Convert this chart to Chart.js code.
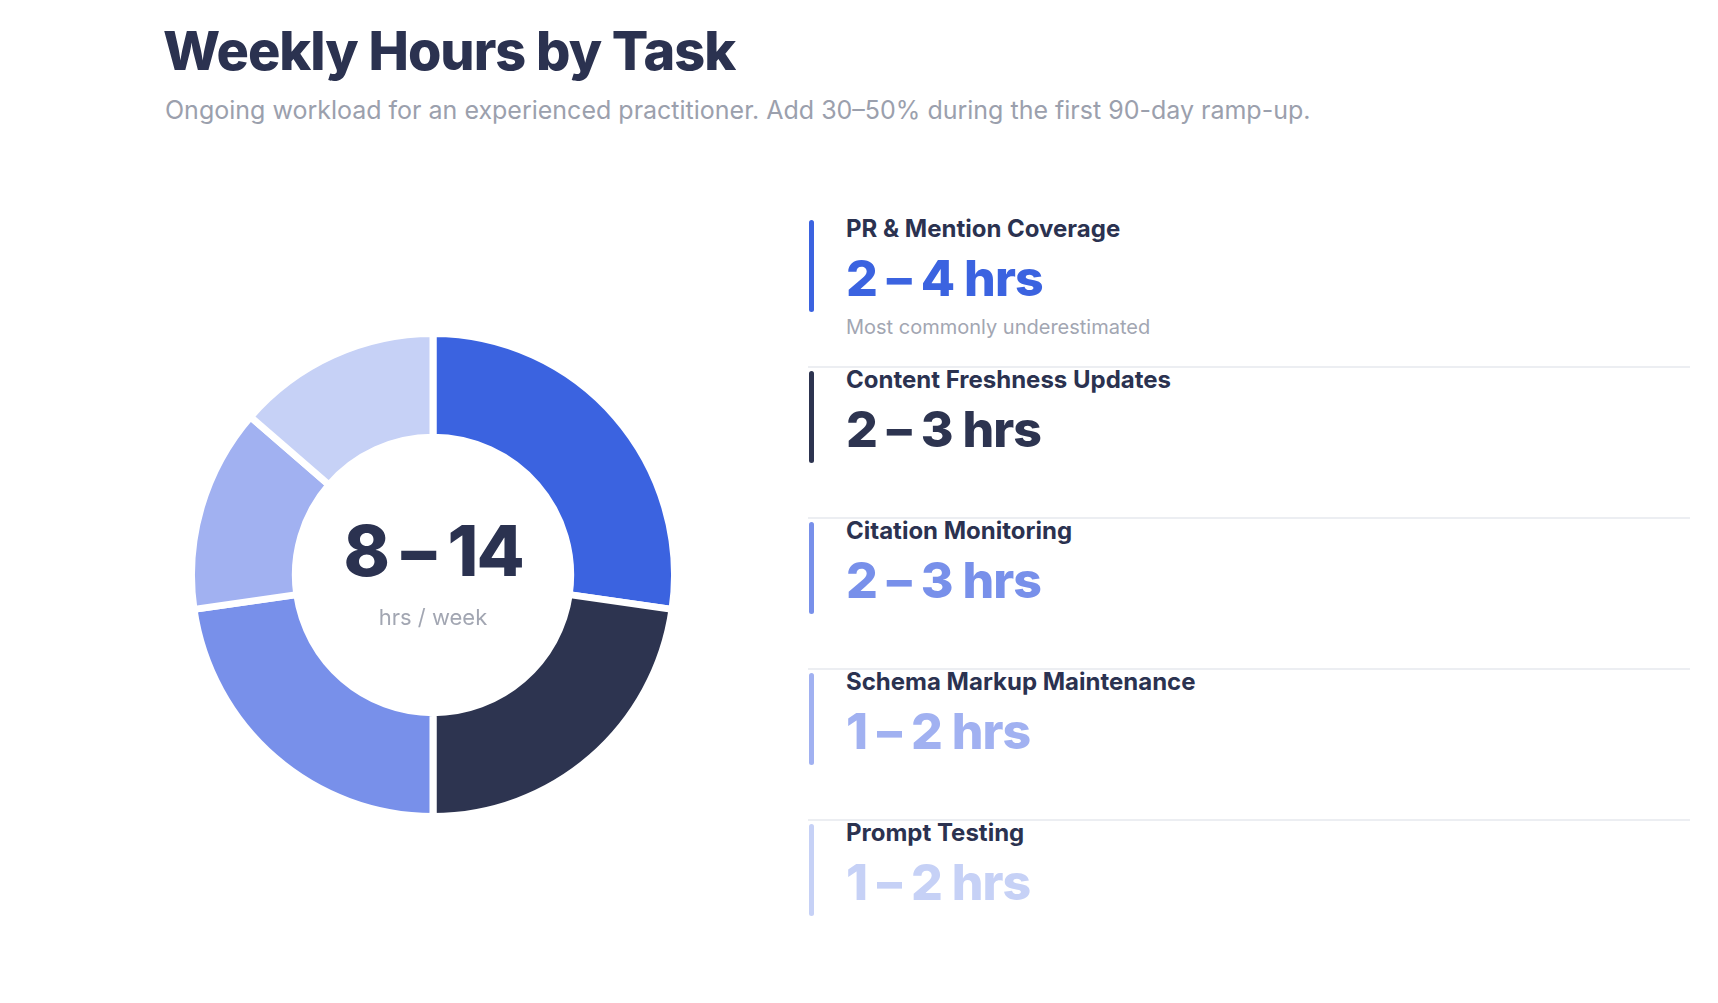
<!DOCTYPE html>
<html><head><meta charset="utf-8">
<script src="https://cdn.jsdelivr.net/npm/chart.js@4"></script>
<style>
body{margin:0;width:1718px;height:1003px;background:#fff;font-family:Inter,"Noto Sans",sans-serif;position:relative;overflow:hidden}
#title{position:absolute;left:163px;top:18px;font-size:54px;font-weight:800;color:#2b3250;letter-spacing:-1px}
#sub{position:absolute;left:165px;top:95px;font-size:25px;color:#9ba0ad}
#wrap{position:absolute;left:188px;top:330px;width:490px;height:490px}
#center{position:absolute;left:188px;top:330px;width:490px;height:490px;display:flex;flex-direction:column;align-items:center;justify-content:center;pointer-events:none}
#center .big{font-size:70px;font-weight:800;color:#2b3250;letter-spacing:-2px;line-height:1;margin-top:-4px}
#center .small{font-size:22px;color:#a2a6b2;margin-top:18px}
.row{position:absolute;left:809px;width:881px}
.bar{position:absolute;left:0;width:5px;border-radius:3px}
.lab{position:absolute;left:37px;font-size:24px;font-weight:700;color:#2b3250}
.val{position:absolute;left:37px;font-size:50px;font-weight:800;letter-spacing:-1px}
.note{position:absolute;left:37px;font-size:20px;color:#a2a6b2}
.sep{position:absolute;left:808px;width:882px;height:2px;background:#eceef2}
</style></head><body>
<div id="title">Weekly Hours by Task</div>
<div id="sub">Ongoing workload for an experienced practitioner. Add 30–50% during the first 90-day ramp-up.</div>
<div id="wrap"><canvas id="c"></canvas></div>
<div id="center"><div class="big">8 – 14</div><div class="small">hrs / week</div></div>
<div id="legend"></div>
<script>
const categories=["PR & Mention Coverage","Content Freshness Updates","Citation Monitoring","Schema Markup Maintenance","Prompt Testing"];
const rangeLabels=["2 – 4 hrs","2 – 3 hrs","2 – 3 hrs","1 – 2 hrs","1 – 2 hrs"];
const values=[3,2.5,2.5,1.5,1.5];
const notes=["Most commonly underestimated","","","",""];
const colors=["#3b63e0","#2d3450","#7890ea","#a1b1f1","#c6d1f6"];
const valueColors=["#3b63e0","#2d3450","#7890ea","#a1b1f1","#c6d1f6"];
const leg=document.getElementById('legend');
categories.forEach((c,i)=>{
  const top=210+i*151;
  const r=document.createElement('div');r.className='row';r.style.top=top+'px';
  r.innerHTML=`<div class="bar" style="top:10px;height:92px;background:${colors[i]}"></div>
  <div class="lab" style="top:4px">${c}</div>
  <div class="val" style="top:38px;color:${valueColors[i]}">${rangeLabels[i]}</div>
  ${notes[i]?`<div class="note" style="top:105px">${notes[i]}</div>`:''}`;
  leg.appendChild(r);
  if(i<4){const s=document.createElement('div');s.className='sep';s.style.top=(366+i*151)+'px';leg.appendChild(s);}
});
new Chart(document.getElementById('c'),{type:'doughnut',
 data:{labels:categories,datasets:[{data:values,backgroundColor:colors,borderColor:'#fff',borderWidth:7,hoverOffset:0}]},
 options:{responsive:true,maintainAspectRatio:false,animation:false,cutout:'57%',
  layout:{padding:0},plugins:{legend:{display:false},tooltip:{enabled:false}}}});
</script>
</body></html>
